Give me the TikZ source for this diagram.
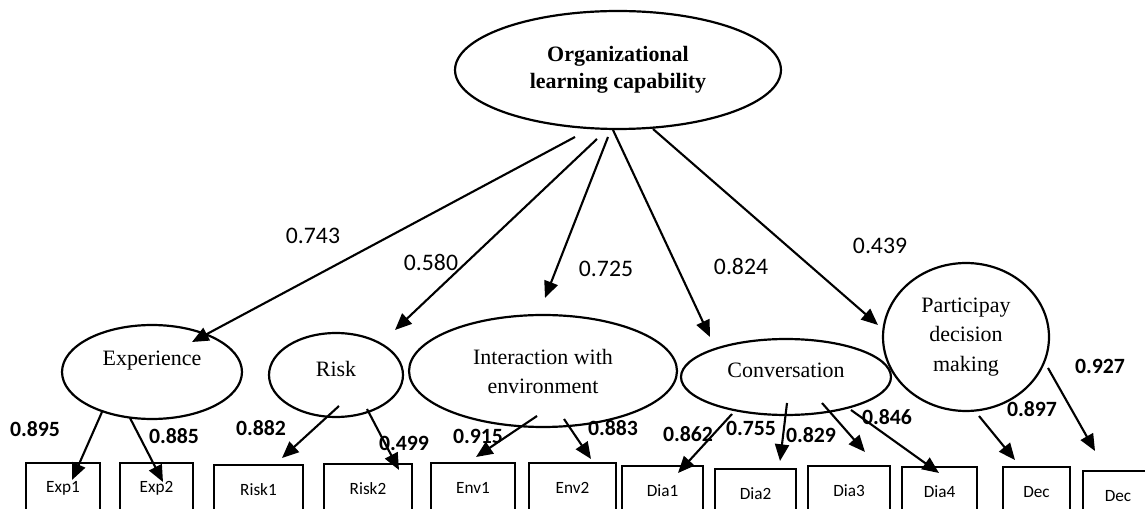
\documentclass[tikz,border=0pt]{standalone}
\usepackage{fontspec}
\setmainfont{Liberation Serif}
\newfontfamily\calib{Carlito}
\usetikzlibrary{arrows.meta}
\usetikzlibrary{shapes.geometric}
\usetikzlibrary{calc}

\tikzset{
  latent/.style = {draw, ellipse, line width=1.25pt, inner sep=0pt, align=center, font=\fontsize{12.5}{16.5}\selectfont},
  lattext/.style = {font=\fontsize{12.5}{16.5}\selectfont},
  obs/.style = {draw, rectangle, line width=1.25pt, minimum height=1cm, inner sep=0pt, font=\calib\fontsize{9.8}{11}\selectfont},
  effect/.style = {line width=1.2pt, -{Triangle[length=9.5pt,width=8pt]}},
  coef/.style = {font=\calib\fontsize{13.5}{15}\selectfont},
  loading/.style = {font=\calib\bfseries\fontsize{12.4}{14}\selectfont}
}

\begin{document}
\begin{tikzpicture}[x=0.02cm,y=-0.02cm]
\useasboundingbox (0,0) rectangle (1145,509);

\node[latent, font=\bfseries\fontsize{12.5}{15.3}\selectfont, minimum width=6.52cm, minimum height=2.36cm] (OLC) at (618,70) {Organizational\\learning capability};
\node[latent, minimum width=3.6cm, minimum height=1.88cm, label={[lattext,yshift=0.22cm]center:Experience}] (Exp) at (152,372) {};
\node[latent, minimum width=2.68cm, minimum height=1.68cm, label={[lattext,yshift=0.12cm]center:Risk}] (Risk) at (336,375) {};
\node[latent, minimum width=5.36cm, minimum height=2.24cm] (Int) at (543,371) {Interaction with\\environment};
\node[latent, minimum width=4.2cm, minimum height=1.52cm, label={[lattext,yshift=0.14cm]center:Conversation}] (Conv) at (786,377) {};
\node[latent, minimum width=3.32cm, minimum height=2.96cm, font=\fontsize{12.5}{17}\selectfont] (Part) at (966,337) {Participay\\decision\\making};

\node[obs, minimum width=1.48cm] (Exp1) at (63,488) {Exp1};
\node[obs, minimum width=1.46cm] (Exp2) at (156.5,488) {Exp2};
\node[obs, minimum width=1.78cm] (Risk1) at (258.5,490) {Risk1};
\node[obs, minimum width=1.76cm] (Risk2) at (368,489) {Risk2};
\node[obs, minimum width=1.68cm] (Env1) at (473,488) {Env1};
\node[obs, minimum width=1.74cm] (Env2) at (572.5,488) {Env2};
\node[obs, minimum width=1.62cm] (Dia1) at (662.5,491) {Dia1};
\node[obs, minimum width=1.62cm] (Dia2) at (755.5,494) {Dia2};
\node[obs, minimum width=1.64cm] (Dia3) at (849,491) {Dia3};
\node[obs, minimum width=1.5cm] (Dia4) at (939.5,492) {Dia4};
\node[obs, minimum width=1.34cm] (DecA) at (1036.5,492) {Dec};
\node[obs, minimum width=1.4cm] (DecB) at (1118,496) {Dec};

\draw [effect] ($(OLC)+(-43,67)$) -- ($(Exp)+(40,-30)$);
\draw [effect] ($(OLC)+(-21,69)$) -- ($(Risk)+(59,-45)$);
\draw [effect] ($(OLC)+(-10,67)$) -- ($(Int)+(2,-73)$);
\draw [effect] ($(OLC)+(-5,60)$) -- ($(Conv)+(-76,-40)$);
\draw [effect] ($(OLC)+(35,59)$) -- ($(Part)+(-88,-12)$);

\draw [effect] ($(Exp)+(-50,40)$) -- ($(Exp1)+(9,-8)$);
\draw [effect] ($(Exp)+(-22,46)$) -- ($(Exp2)+(6.5,-6)$);
\draw [effect] ($(Risk)+(3,31)$) -- ($(Risk1)+(23.5,-32)$);
\draw [effect] ($(Risk)+(31,34)$) -- ($(Risk2)+(31,-19)$);
\draw [effect] ($(Int)+(-6,45)$) -- ($(Env1)+(3,-31)$);
\draw [effect] ($(Int)+(21,48)$) -- ($(Env2)+(18.5,-29)$);
\draw [effect] ($(Conv)+(-54,37)$) -- ($(Dia1)+(15.5,-18)$);
\draw [effect] ($(Conv)+(1,26)$) -- ($(Dia2)+(24.5,-33)$);
\draw [effect] ($(Conv)+(36,26)$) -- ($(Dia3)+(16,-39)$);
\draw [effect] ($(Conv)+(65,33)$) -- ($(Dia4)+(-0.5,-19)$);
\draw [effect] ($(Part)+(13,79)$) -- ($(DecA)+(-21.5,-32)$);
\draw [effect] ($(Part)+(82,31)$) -- ($(DecB)+(-23,-45)$);

\node[coef] (cExp) at (313,236) {0.743};
\node[coef] (cRisk) at (431,262) {0.580};
\node[coef] (cInt) at (606,269) {0.725};
\node[coef] (cConv) at (741,266) {0.824};
\node[coef] (cPart) at (880,246) {0.439};

\node[loading] (lExp1) at (35,429) {0.895};
\node[loading] (lExp2) at (174,436) {0.885};
\node[loading] (lRisk1) at (261,428) {0.882};
\node[loading] (lRisk2) at (404,443) {0.499};
\node[loading] (lEnv1) at (478,436) {0.915};
\node[loading] (lEnv2) at (613,428) {0.883};
\node[loading] (lDia1) at (688,434) {0.862};
\node[loading] (lDia2) at (751,428) {0.755};
\node[loading] (lDia3) at (811,435) {0.829};
\node[loading] (lDia4) at (887,417) {0.846};
\node[loading] (lDecA) at (1032,409) {0.897};
\node[loading] (lDecB) at (1100,366) {0.927};
\end{tikzpicture}
\end{document}
